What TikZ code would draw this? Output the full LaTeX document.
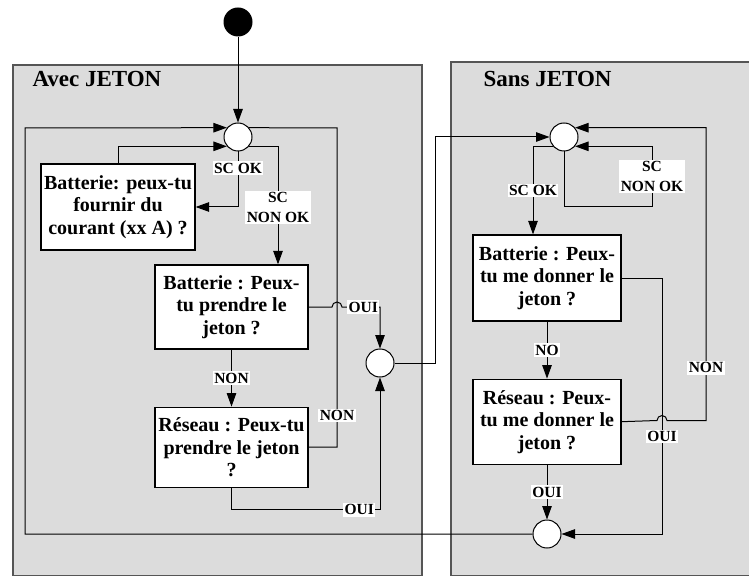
\documentclass[tikz,border=0pt]{standalone}
\usepackage{fontspec}
\setmainfont{Liberation Serif}
\usetikzlibrary{arrows.meta, positioning, calc}

\definecolor{panelgray}{HTML}{DCDCDC}
\definecolor{panelline}{HTML}{555555}

\begin{document}
\begin{tikzpicture}[x=1pt, y=-1pt, node distance=57pt, >={Triangle[length=13.5pt,width=9.5pt]}, line width=1pt]
    \tikzset{
        panel/.style={draw=panelline, fill=panelgray, line width=1.3pt},
        title/.style={anchor=base west, inner sep=0pt, font=\bfseries\fontsize{23}{26}\selectfont},
        block/.style={rectangle, draw=black, fill=white, line width=1.2pt, align=center, inner sep=2pt, font=\bfseries\fontsize{20}{22.5}\selectfont},
        merge/.style={circle, draw=black, fill=white, minimum size=28pt, inner sep=0pt},
        startdot/.style={circle, fill=black, minimum size=29pt, inner sep=0pt},
        lbl/.style={fill=white, inner sep=1.5pt, align=center, font=\bfseries\fontsize{15.5}{20}\selectfont},
        line/.style={draw, ->},
        wire/.style={draw}
    }
    \useasboundingbox (0,0) rectangle (749,577);

    % panels
    \path[panel] (13,65) rectangle (422,575.5);
    \path[panel] (451,62) rectangle (760,575.5);
    \node (avecT) [title] at (32,87) {Avec JETON};
    \node (sansT) [title] at (483,87) {Sans JETON};

    \node (debut) [startdot] at (238,22) {};
    \node (m1) [merge] at (238,137) {};
    \node (m2) [merge] at (380,363) {};
    \node (m3) [merge] at (564,137) {};
    \node (m4) [merge] at (547,534) {};

    \node (bat1) [block, minimum width=154pt, minimum height=86pt] at (118,207) {Batterie: peux-tu\\fournir du\\courant (xx A) ?};
    \node (bat2) [block, minimum width=153pt, minimum height=84pt] at (231.5,307) {Batterie : Peux-\\tu prendre le\\jeton ?};
    \node (res1) [block, minimum width=153pt, minimum height=80pt, below=of bat2] {Réseau : Peux-tu\\prendre le jeton\\?};
    \node (bat3) [block, minimum width=148pt, minimum height=86pt] at (547,278) {Batterie : Peux-\\tu me donner le\\jeton ?};
    \node (res3) [block, minimum width=148pt, minimum height=85pt, below=of bat3] {Réseau : Peux-\\tu me donner le\\jeton ?};

    % avec jeton
    \path [line] (debut) -- (m1);
    \path [line] (m4.west) -| (25,128) -- (m1.140);
    \path [line] (bat1.north) |- (m1.220);
    \path [line] (m1.south) |- node[lbl, pos=0.15] {SC OK} (bat1.east);
    \path [line] (m1.320) -| node[lbl, pos=0.76] {SC\\NON OK} ([xshift=46.5pt]bat2.north);
    \path [line] (bat2.east) -- (332,307) arc[start angle=180, end angle=0, radius=5pt] -| node[lbl, pos=0.28] {OUI} (m2.north);
    \path [line] (bat2) -- node[lbl] {NON} (res1);
    \path [wire] (res1.east) -| node[lbl, pos=0.55] {NON} (337,128) -- (m1.40);
    \path [line] (res1.south) -- ++(0,22) -| node[lbl, pos=0.43] {OUI} (m2.south);
    \path [line] (m2.east) -| (435,137) -- (m3.west);

    % sans jeton
    \path [line] (m3.south) |- (652,207) |- node[lbl, pos=0.25] {SC\\NON OK} (m3.320);
    \path [line] (m3.220) -| node[lbl, pos=0.75] {SC OK} ([xshift=-14pt]bat3.north);
    \path [line] (bat3.east) -| node[lbl, pos=0.81] {OUI} (662,534) -- (m4.east);
    \path [line] (bat3) -- node[lbl] {NO} (res3);
    \path [line] (res3.east) -- (657,420.5) arc[start angle=180, end angle=0, radius=5pt] -- (706,420.5) |- node[lbl, pos=0.09] {NON} (m3.40);
    \path [line] (res3) -- node[lbl] {OUI} (m4);
\end{tikzpicture}
\end{document}
